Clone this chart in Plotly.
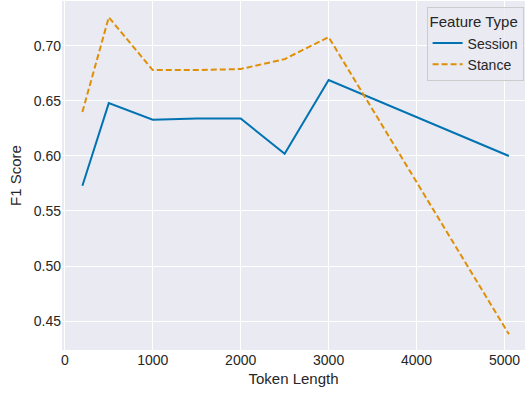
import plotly.graph_objects as go

token_length = [200, 500, 1000, 1500, 2000, 2500, 3000, 5050]
session_f1 = [0.573, 0.648, 0.633, 0.634, 0.634, 0.602, 0.669, 0.600]
stance_f1 = [0.640, 0.726, 0.678, 0.678, 0.679, 0.688, 0.708, 0.438]

x_ticks = [0, 1000, 2000, 3000, 4000, 5000]
y_ticks = [0.45, 0.50, 0.55, 0.60, 0.65, 0.70]

fig = go.Figure()
fig.add_trace(go.Scatter(x=token_length, y=session_f1, mode="lines", name="Session",
                         line=dict(color="#0173b2", width=2)))
fig.add_trace(go.Scatter(x=token_length, y=stance_f1, mode="lines", name="Stance",
                         line=dict(color="#de8f05", width=2, dash="6px,3px")))

font = "Liberation Sans, Arial, sans-serif"
fig.update_layout(
    width=530, height=396,
    margin=dict(l=62, r=5, t=1, b=46),
    paper_bgcolor="white", plot_bgcolor="#eaeaf2",
    font=dict(family=font, size=14, color="#262626"),
    showlegend=True,
    legend=dict(
        title=dict(text="Feature Type", font=dict(size=15)),
        x=0.997, y=0.983, xanchor="right", yanchor="top",
        bgcolor="rgba(234,234,242,0.8)", bordercolor="#cccccc", borderwidth=1,
        font=dict(size=14), tracegroupgap=0, itemwidth=30,
    ),
)
fig.update_xaxes(range=[-32, 5233], tickvals=x_ticks, ticktext=[str(v) for v in x_ticks],
                 gridcolor="white", gridwidth=1.2, zeroline=False, showline=False,
                 ticks="", tickfont=dict(size=14),
                 title=dict(text="Token Length", standoff=6, font=dict(size=15)))
fig.update_yaxes(range=[0.4237, 0.7408], tickvals=y_ticks, ticktext=[f"{v:.2f}" for v in y_ticks],
                 gridcolor="white", gridwidth=1.2, zeroline=False, showline=False,
                 ticks="", tickfont=dict(size=14),
                 title=dict(text="F1 Score", standoff=8, font=dict(size=15)))

# drop the default page margin so the figure sits at the window origin
fig.write_html("out.html", config={"displayModeBar": False},
               post_script="document.body.style.margin='0';")
